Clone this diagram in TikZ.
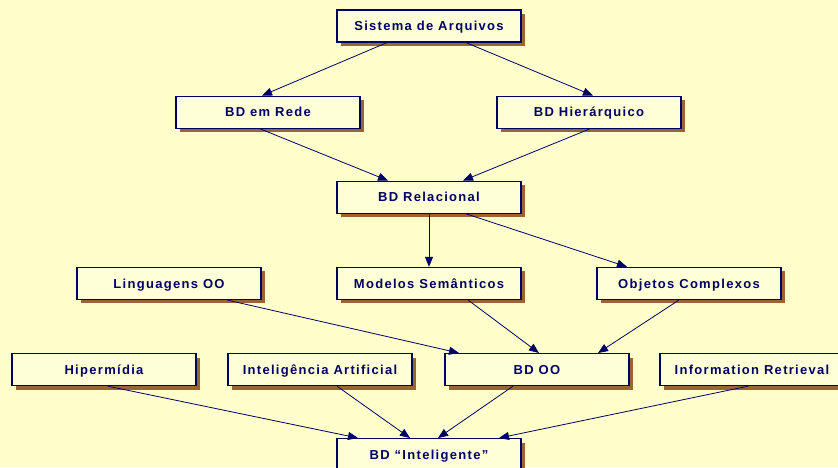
\documentclass[tikz,border=0pt]{standalone}
\usepackage{xcolor}
\usepackage{fontspec}
\setmainfont{Liberation Sans}[LetterSpace=10]
\usepackage{tikz}
\usetikzlibrary{positioning,arrows.meta,shadows}

\definecolor{fundo}{RGB}{255,255,204}
\definecolor{caixa}{RGB}{255,255,215}
\definecolor{marinho}{RGB}{0,0,102}
\definecolor{sombra}{RGB}{153,102,51}

\begin{document}
\begin{tikzpicture}[
  x=1pt, y=1pt,
  font=\fontsize{13}{15}\selectfont\bfseries,
  >={Triangle[length=10pt,width=8pt]},
  box/.style={draw=marinho, line width=1.2pt, fill=caixa, text=marinho,
              minimum width=184pt, minimum height=32pt, inner sep=0pt,
              text height=12pt, text depth=2.7pt,
              drop shadow={shadow xshift=4pt, shadow yshift=-4pt,
                           fill=sombra, opacity=1}},
  seta/.style={->, draw=marinho, line width=0.8pt},
  node distance=53pt,
]

% ── fundo ──
\useasboundingbox (0,0) rectangle (838,-467);
\fill[fundo] (0,0) rectangle (838,-467);

% ── topo ──
\node[box] (sa) at (429,-26) {Sistema de Arquivos};

% ── modelos clássicos ──
\node[box, below=of sa, xshift=-161pt] (rede) {BD em Rede};
\node[box, below=of sa, xshift=160pt]  (hier) {BD Hierárquico};

% ── relacional ──
\node[box, below=138pt of sa] (rel) {BD Relacional};

% ── terceira linha ──
\node[box, below=of rel, xshift=-260pt] (ling) {Linguagens OO};
\node[box, below=of rel]                (mod)  {Modelos Semânticos};
\node[box, below=of rel, xshift=260pt]  (obj)  {Objetos Complexos};

% ── quarta linha ──
\node[box, below=of mod, xshift=-325pt] (hip)  {Hipermídia};
\node[box, below=of mod, xshift=-109pt] (ia)   {Inteligência Artificial};
\node[box, below=of mod, xshift=108pt]  (bdoo) {BD OO};
\node[box, below=of mod, xshift=323pt]  (ir)   {Information Retrieval};

% ── base ──
\node[box, below=138pt of mod] (bdi) {BD “Inteligente”};

% ── setas ──
\draw[seta] ([xshift=-42pt]sa.south)  -- ([xshift=-6pt]rede.north);
\draw[seta] ([xshift=37pt]sa.south)   -- ([xshift=4pt]hier.north);
\draw[seta] ([xshift=-8pt]rede.south) -- ([xshift=-41pt]rel.north);
\draw[seta] ([xshift=1pt]hier.south)  -- ([xshift=34pt]rel.north);
\draw[seta] (rel.south) -- (mod.north);
\draw[seta] ([xshift=37pt]rel.south)  -- ([xshift=-62pt]obj.north);
\draw[seta] ([xshift=58pt]ling.south) -- ([xshift=-78pt]bdoo.north);
\draw[seta] ([xshift=39pt]mod.south)  -- ([xshift=2pt]bdoo.north);
\draw[seta] ([xshift=-10pt]obj.south) -- ([xshift=61pt]bdoo.north);
\draw[seta] ([xshift=4pt]hip.south)   -- ([xshift=-71pt]bdi.north);
\draw[seta] ([xshift=17pt]ia.south)   -- ([xshift=-19pt]bdi.north);
\draw[seta] ([xshift=-24pt]bdoo.south) -- ([xshift=9pt]bdi.north);
\draw[seta] ([xshift=-4pt]ir.south)   -- ([xshift=70pt]bdi.north);

\end{tikzpicture}
\end{document}
